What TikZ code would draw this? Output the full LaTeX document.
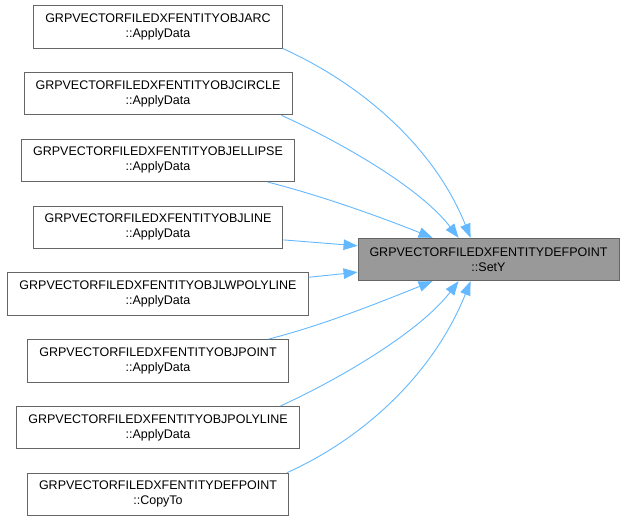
\documentclass[tikz,border=0pt]{standalone}
\usepackage{fontspec}
\setmainfont{Liberation Sans}
\usetikzlibrary{arrows.meta, positioning}
\definecolor{boxgray}{HTML}{666666}
\definecolor{curgray}{HTML}{999999}
\definecolor{edgeblue}{HTML}{63B8FF}

\begin{document}
\begin{tikzpicture}[
    x=1pt, y=1pt,
    node distance=23.4pt,
    fn/.style={draw=boxgray, fill=white, line width=0.9pt, minimum height=42.5pt, inner xsep=11.5pt,
               font=\fontsize{12.5}{15}\selectfont, align=center},
    arr/.style={-{Triangle[length=14pt, width=10.5pt]}, draw=edgeblue, line width=0.9pt},
]
\useasboundingbox (0,0) rectangle (625,-520);

\node[fn] (arc) at (158,-26.8) {GRPVECTORFILEDXFENTITYOBJARC\\::ApplyData};
\node[fn, below=of arc] (circle) {GRPVECTORFILEDXFENTITYOBJCIRCLE\\::ApplyData};
\node[fn, below=of circle] (ellipse) {GRPVECTORFILEDXFENTITYOBJELLIPSE\\::ApplyData};
\node[fn, below=of ellipse] (line) {GRPVECTORFILEDXFENTITYOBJLINE\\::ApplyData};
\node[fn, below=of line] (lwpoly) {GRPVECTORFILEDXFENTITYOBJLWPOLYLINE\\::ApplyData};
\node[fn, below=of lwpoly] (point) {GRPVECTORFILEDXFENTITYOBJPOINT\\::ApplyData};
\node[fn, below=of point] (poly) {GRPVECTORFILEDXFENTITYOBJPOLYLINE\\::ApplyData};
\node[fn, below=of poly] (copyto) {GRPVECTORFILEDXFENTITYDEFPOINT\\::CopyTo};

\node[fn, fill=curgray] (sety) at (488.5,-259.5) {GRPVECTORFILEDXFENTITYDEFPOINT\\::SetY};

% callers above
\draw[arr] (arc.south east) .. controls +(80,-36) and +(-36,90) .. ([xshift=113pt]sety.north west);
\draw[arr] ([xshift=-11pt]circle.south east) .. controls +(55,-25) and +(-40,52) .. ([xshift=101pt]sety.north west);
\draw[arr] ([xshift=-27pt]ellipse.south east) .. controls +(55,-14) and +(-50,20) .. ([xshift=75pt]sety.north west);
\draw[arr] ([yshift=9pt]line.south east) -- ([yshift=-8pt]sety.north west);
% callers below
\draw[arr] ([yshift=-5pt]lwpoly.north east) -- ([yshift=9pt]sety.south west);
\draw[arr] ([xshift=-20pt]point.north east) .. controls +(55,14) and +(-50,-20) .. ([xshift=75pt]sety.south west);
\draw[arr] ([xshift=-19pt]poly.north east) .. controls +(55,25) and +(-40,-52) .. ([xshift=101pt]sety.south west);
\draw[arr] ([xshift=-2pt]copyto.north east) .. controls +(80,36) and +(-36,-90) .. ([xshift=113pt]sety.south west);

\end{tikzpicture}
\end{document}
